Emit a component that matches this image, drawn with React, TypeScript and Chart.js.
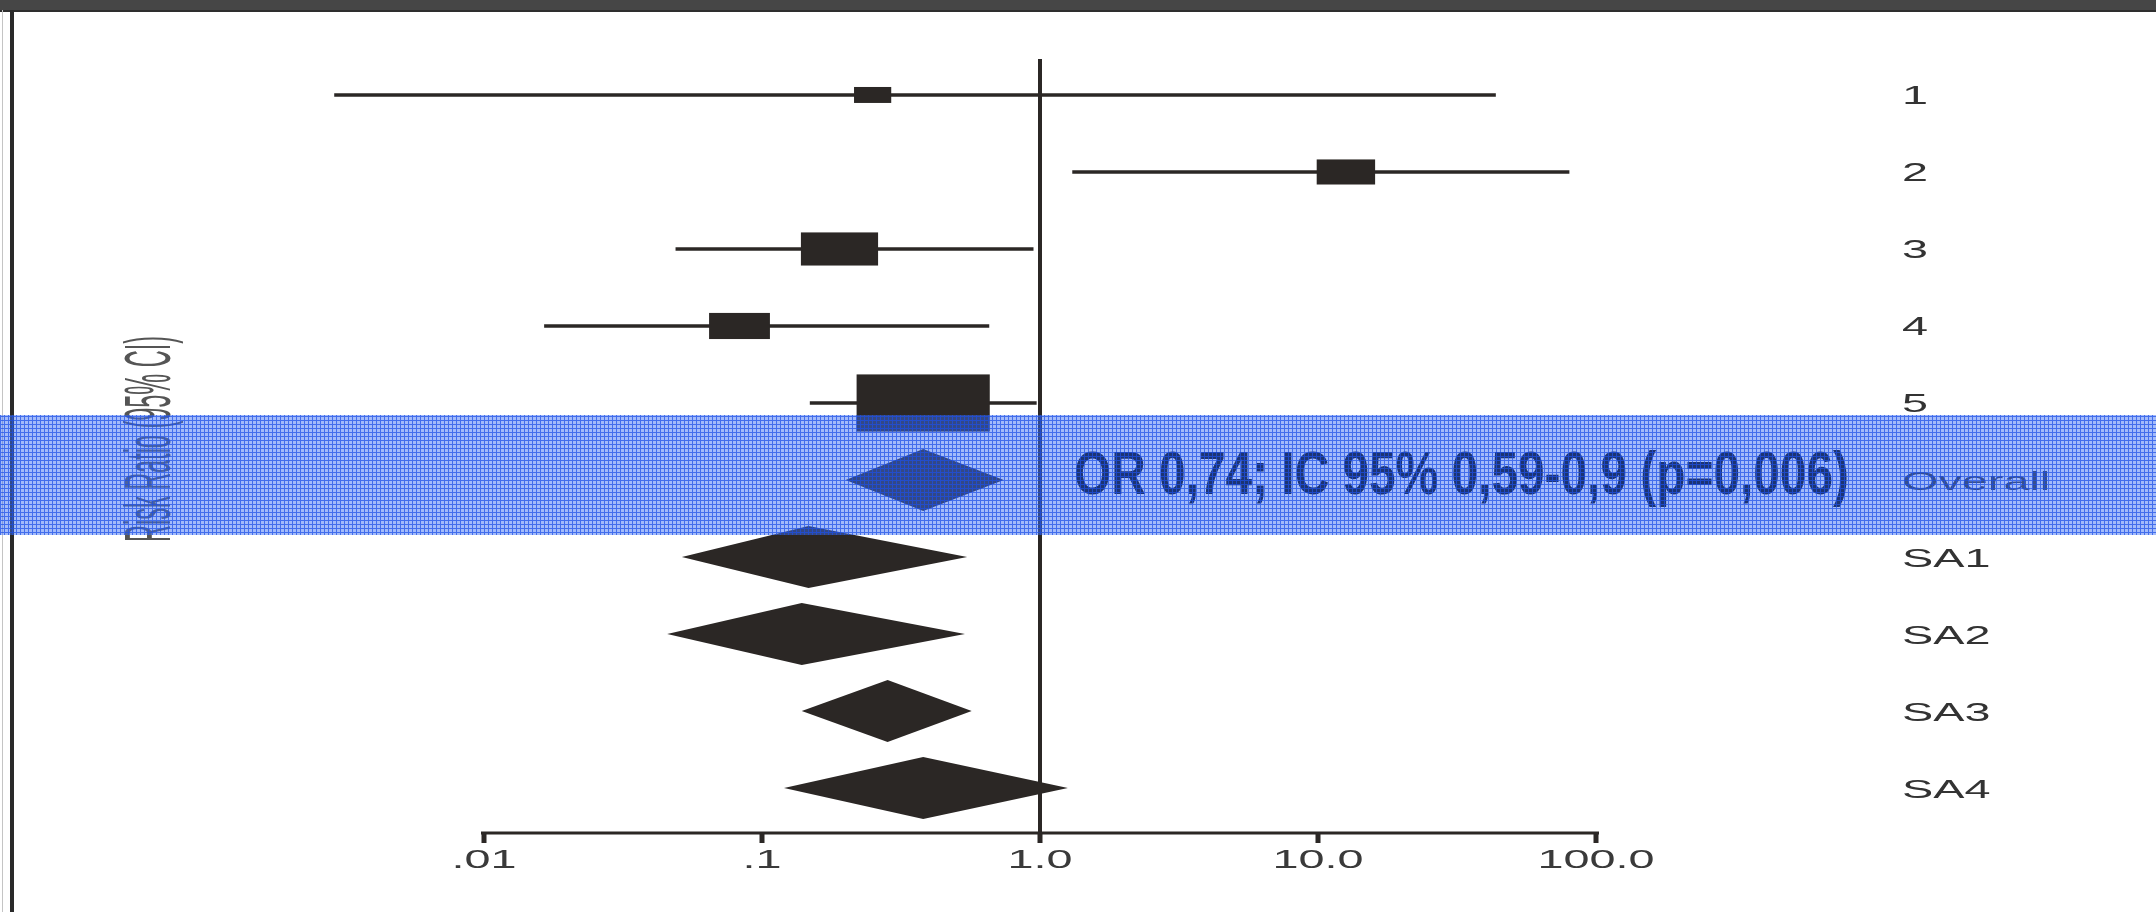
import React, { useEffect, useRef } from 'react';
import { Chart, registerables } from 'chart.js';

Chart.register(...registerables);

// ---------- data ----------
const labels = ['1', '2', '3', '4', '5', 'Overall', 'SA1', 'SA2', 'SA3', 'SA4'];
const estimates = [0.25, 12.6, 0.19, 0.083, 0.38, 0.38, 0.147, 0.139, 0.283, 0.38];
const lowerCI = [0.0029, 1.31, 0.049, 0.0165, 0.149, 0.2, 0.0515, 0.0456, 0.139, 0.12];
const upperCI = [43.5, 80, 0.945, 0.655, 0.97, 0.74, 0.547, 0.537, 0.568, 1.26];
const studyWeights = [4.3, 10.6, 18.5, 11.5, 55.1]; // rows 1-5 (boxes); remaining rows are pooled diamonds
const xTickValues = [0.01, 0.1, 1, 10, 100];
const xTickLabels = ['.01', '.1', '1.0', '10.0', '100.0'];
const yAxisTitle = 'Risk Ratio (95% CI)';
const annotationText = 'OR 0,74; IC 95% 0,59-0,9 (p=0,006)';
const highlightedLabel = 'Overall';

// ---------- styles ----------
const INK = '#2b2725';
const LABEL_FONT = '"Liberation Sans", Arial, sans-serif';

function stretchedText(
  ctx: CanvasRenderingContext2D,
  text: string,
  x: number,
  y: number,
  sx: number,
  align: CanvasTextAlign
) {
  ctx.save();
  ctx.translate(x, y);
  ctx.scale(sx, 1);
  ctx.textAlign = align;
  ctx.textBaseline = 'alphabetic';
  ctx.fillText(text, 0, 0);
  ctx.restore();
}

function makeBandPattern(ctx: CanvasRenderingContext2D) {
  const tile = document.createElement('canvas');
  tile.width = 4;
  tile.height = 4;
  const t = tile.getContext('2d')!;
  t.fillStyle = 'rgba(60,110,245,0.47)';
  t.fillRect(0, 0, 4, 4);
  t.fillStyle = 'rgba(30,80,230,0.72)';
  t.fillRect(0, 0, 4, 1);
  t.fillRect(0, 1, 1, 3);
  return ctx.createPattern(tile, 'repeat');
}

const forestPlugin = {
  id: 'forestPlot',
  afterDraw(chart: any) {
    const { ctx, chartArea } = chart;
    const x = chart.scales.x;
    const y = chart.scales.y;
    ctx.save();

    // study boxes (size from weight)
    ctx.fillStyle = INK;
    for (let i = 0; i < studyWeights.length; i++) {
      const cx = x.getPixelForValue(estimates[i]);
      const cy = y.getPixelForValue(i);
      const h = 7.7 * Math.sqrt(studyWeights[i]);
      const w = 2.33 * h;
      ctx.fillRect(cx - w / 2, cy - h / 2, w, h);
    }

    // pooled diamonds
    for (let i = studyWeights.length; i < labels.length; i++) {
      const cy = y.getPixelForValue(i);
      const l = x.getPixelForValue(lowerCI[i]);
      const c = x.getPixelForValue(estimates[i]);
      const r = x.getPixelForValue(upperCI[i]);
      const hh = 31;
      ctx.beginPath();
      ctx.moveTo(l, cy);
      ctx.lineTo(c, cy - hh);
      ctx.lineTo(r, cy);
      ctx.lineTo(c, cy + hh);
      ctx.closePath();
      ctx.fill();
    }

    // line of no effect at 1.0
    const x1 = x.getPixelForValue(1);
    ctx.fillRect(x1 - 2, chartArea.top + 3, 4, chartArea.bottom - chartArea.top + 7);

    // x axis (drawn between first and last tick only)
    const xa = x.getPixelForValue(xTickValues[0]);
    const xb = x.getPixelForValue(xTickValues[xTickValues.length - 1]);
    ctx.fillRect(xa - 3, chartArea.bottom - 1.5, xb - xa + 6, 3);
    ctx.font = `26px ${LABEL_FONT}`;
    xTickValues.forEach((v, k) => {
      const px = x.getPixelForValue(v);
      ctx.fillStyle = INK;
      ctx.fillRect(px - 2.5, chartArea.bottom, 5, 10);
      ctx.fillStyle = '#3a3a3a';
      stretchedText(ctx, xTickLabels[k], px, chartArea.bottom + 35, 1.8, 'center');
    });

    // row labels at the right
    ctx.fillStyle = '#333333';
    labels.forEach((lab, i) => {
      const cy = y.getPixelForValue(i);
      stretchedText(ctx, lab, chartArea.right + 28, cy + 9.5, 1.8, 'left');
    });

    // vertical axis title (condensed)
    ctx.save();
    ctx.fillStyle = '#555555';
    ctx.font = `65px ${LABEL_FONT}`;
    const tw = ctx.measureText(yAxisTitle).width;
    ctx.translate(170, 542);
    ctx.rotate(-Math.PI / 2);
    ctx.scale(206 / tw, 1);
    ctx.textAlign = 'left';
    ctx.textBaseline = 'alphabetic';
    ctx.fillText(yAxisTitle, 0, 0);
    ctx.restore();

    // annotation (bold, condensed)
    ctx.save();
    ctx.fillStyle = '#000000';
    ctx.font = `bold 61px ${LABEL_FONT}`;
    const aw = ctx.measureText(annotationText).width;
    ctx.translate(1074, 494);
    ctx.scale(775 / aw, 1);
    ctx.textAlign = 'left';
    ctx.textBaseline = 'alphabetic';
    ctx.fillText(annotationText, 0, 0);
    ctx.restore();

    // frame
    ctx.fillStyle = '#464646';
    ctx.fillRect(0, 0, chart.width, 10);
    ctx.fillStyle = '#2e2e2e';
    ctx.fillRect(0, 10, chart.width, 2);
    ctx.fillStyle = '#c4c4c4';
    ctx.fillRect(2, 10, 1, chart.height - 10);
    ctx.fillStyle = '#2a2a2a';
    ctx.fillRect(10, 10, 4, chart.height - 10);

    // highlight band over the overall row
    const hy = y.getPixelForValue(labels.indexOf(highlightedLabel));
    const pat = makeBandPattern(ctx);
    ctx.fillStyle = pat || 'rgba(35,88,245,0.57)';
    ctx.fillRect(0, hy - 65, chart.width, 120);

    ctx.restore();
  },
};

export default function App() {
  const ref = useRef<HTMLCanvasElement>(null);

  useEffect(() => {
    const canvas = ref.current!;
    const studyIdx = studyWeights.map((_, i) => i);
    const chart = new Chart(canvas, {
      type: 'bar',
      data: {
        datasets: [
          {
            label: 'IC 95%',
            indexAxis: 'y',
            data: studyIdx.map((i) => ({ x: [lowerCI[i], upperCI[i]], y: i })),
            backgroundColor: INK,
            barThickness: 3,
            borderWidth: 0,
          } as any,
        ],
      },
      options: {
        indexAxis: 'y',
        responsive: false,
        animation: false,
        devicePixelRatio: 1,
        layout: { padding: { left: 206, right: 282, top: 56, bottom: 79 } },
        plugins: {
          legend: { display: false },
          tooltip: { enabled: false },
          title: { display: false },
        },
        scales: {
          x: { type: 'logarithmic', min: 0.001, max: 1000, display: false, offset: false },
          y: {
            type: 'linear',
            min: -0.506,
            max: 9.584,
            reverse: true,
            display: false,
            offset: false,
            grid: { offset: false },
          },
        },
      } as any,
      plugins: [forestPlugin],
    });
    return () => chart.destroy();
  }, []);

  return (
    <div style={{ position: 'fixed', left: 0, top: 0, width: 2156, height: 912, background: '#ffffff' }}>
      <canvas ref={ref} width={2156} height={912} style={{ display: 'block' }} />
    </div>
  );
}
